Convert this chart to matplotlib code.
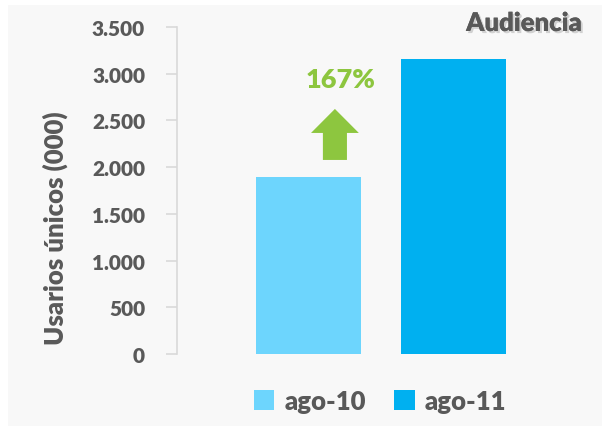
import matplotlib.pyplot as plt
import matplotlib.patches as mpatches
import matplotlib.patheffects as pe
from matplotlib.ticker import FuncFormatter

series = ["ago-10", "ago-11"]
values = [1890, 3160]
colors = ["#6DD5FD", "#00B0F0"]
growth_label = "167%"
yticks = [0, 500, 1000, 1500, 2000, 2500, 3000, 3500]

plt.rcParams['font.family'] = ['Lato', 'DejaVu Sans']
grey = "#595959"
wt = "heavy"

fig = plt.figure(figsize=(6.02, 4.27), dpi=100)
fig.patch.set_facecolor("white")
# light grey panel behind everything
fig.patches.append(mpatches.Rectangle((8 / 602, 0), 1, 1 - 6 / 427, transform=fig.transFigure,
                                      facecolor="#F8F8F8", edgecolor="none", zorder=-10))

ax = fig.add_axes([177 / 602, 1 - 355 / 427, 410 / 602, (355 - 28) / 427])
ax.set_facecolor("none")

for i, (s, v) in enumerate(zip(series, values)):
    ax.bar(i, v, width=0.724, color=colors[i], label=s, zorder=2)

ax.set_xlim(-0.91, 1.92)
ax.set_ylim(0, 3500)
ax.set_yticks(yticks)
ax.yaxis.set_major_formatter(FuncFormatter(lambda v, p: f"{int(v):,}".replace(",", ".")))
ax.set_xticks([])
for side in ["top", "right", "bottom"]:
    ax.spines[side].set_visible(False)
ax.spines["left"].set_color("#D9D9D9")
ax.spines["left"].set_linewidth(1.2)
ax.tick_params(axis="y", colors="#D9D9D9", length=8, width=1.2, pad=15)
for lbl in ax.get_yticklabels():
    lbl.set_color(grey)
    lbl.set_fontweight(wt)
    lbl.set_fontsize(15)

ax.set_ylabel("Usarios únicos (000)", fontsize=18.5, fontweight=wt, color=grey)
ax.yaxis.set_label_coords(68 / 602, 1 - 228 / 427, transform=fig.transFigure)

# growth arrow and label
ax.add_patch(mpatches.FancyArrow(0.18, 2077, 0, 546, width=0.166, head_width=0.33,
                                 head_length=257, length_includes_head=True,
                                 color="#8DC63F", linewidth=0, zorder=3))
ax.text(0.22, 2944, growth_label, ha="center", va="center", fontsize=19.5,
        fontweight=wt, color="#8DC63F")

fig.text(0.967, 1 - 24 / 427, "Audiencia", ha="right", va="center", fontsize=18.5,
         fontweight=wt, color=grey,
         path_effects=[pe.withSimplePatchShadow(offset=(1.5, -1.5), shadow_rgbFace="#777777", alpha=0.3),
                       pe.Normal()])

leg = ax.legend(loc="center", bbox_to_anchor=(380 / 602, 1 - 402 / 427), bbox_transform=fig.transFigure,
                ncol=2, frameon=False, handlelength=0.8, handleheight=0.8, handletextpad=0.4,
                columnspacing=1.1, prop={"weight": wt, "size": 18.5})
for t in leg.get_texts():
    t.set_color(grey)

fig.savefig("out.png", dpi=100)
